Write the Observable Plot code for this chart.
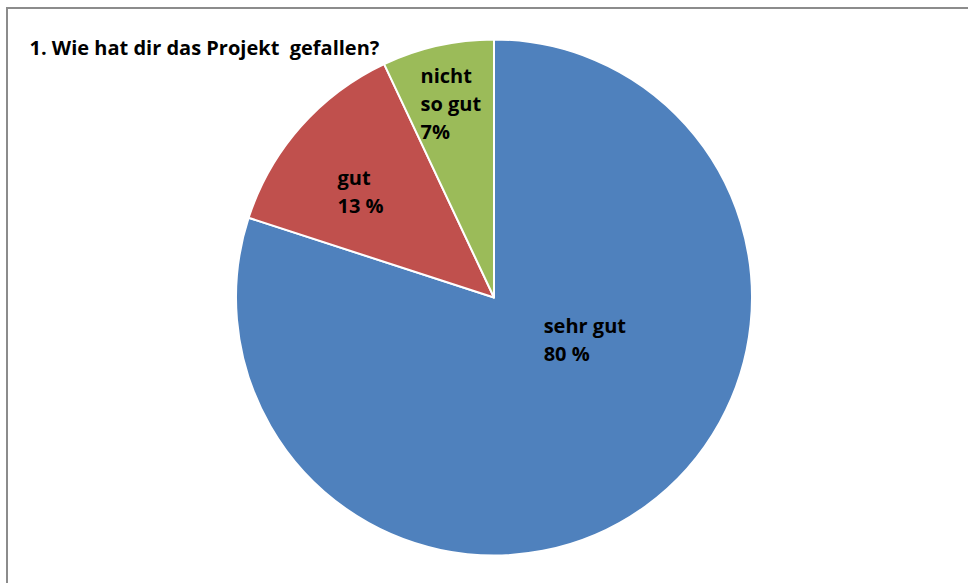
<!DOCTYPE html>
<html><head><meta charset="utf-8">
<script src="https://cdn.jsdelivr.net/npm/d3@7"></script>
<script src="https://cdn.jsdelivr.net/npm/@observablehq/plot@0.6"></script>
<style>
body{margin:0;background:#fff;}
#wrap{position:relative;width:968px;height:583px;overflow:hidden;background:#fff;}
#border{position:absolute;left:6px;top:7px;width:2000px;height:2000px;border-top:2px solid #8c8c8c;border-left:2px solid #8c8c8c;}
#chart{position:absolute;left:0;top:0;}
</style></head><body>
<div id="wrap"><div id="border"></div><div id="chart"></div></div>
<script>
const categories = ["sehr gut", "gut", "nicht so gut"];
const values = [80, 13, 7];
const labels = ["sehr gut\n80 %", "gut\n13 %", "nicht\nso gut\n7%"];
const colors = ["#4F81BD", "#C0504D", "#9BBB59"];
const title = "1. Wie hat dir das Projekt  gefallen?";

const table = categories.map((c, i) => ({category: c, value: values[i], label: labels[i]}));
const slices = d3.pie().sort(null).value(d => d.value)(table)
  .map(p => ({...p.data, startAngle: p.startAngle, endAngle: p.endAngle, mid: (p.startAngle + p.endAngle) / 2}));

function pieMark(index, scales) {
  const cx = scales.x(0), cy = scales.y(0), r = scales.x(1) - scales.x(0);
  const color = scales.color || d3.scaleOrdinal(categories, colors);
  const arc = d3.arc().innerRadius(0).outerRadius(r);
  const g = d3.create("svg:g").attr("transform", `translate(${cx},${cy})`);
  g.selectAll("path").data(slices).join("path")
    .attr("d", arc)
    .attr("fill", d => color(d.category))
    .attr("stroke", "#fff").attr("stroke-width", 2).attr("stroke-linejoin", "round");
  return g.node();
}

const FONT = "Open Sans";
const lx = d => 0.7 * Math.sin(d.mid);
const ly = d => 0.7 * Math.cos(d.mid);
const labelOpts = {x: lx, y: ly, text: "label", textAnchor: "start", lineAnchor: "middle", lineHeight: 1.4,
  fontSize: 20, fontWeight: "bold", fontFamily: FONT, fill: "#000"};

const chart = Plot.plot({
  width: 968, height: 583,
  margin: 0,
  style: {background: "transparent", fontFamily: FONT},
  x: {domain: [-1, 1], range: [236, 752], axis: null},
  y: {domain: [-1, 1], range: [555.5, 39.5], axis: null},
  color: {domain: categories, range: colors},
  marks: [
    Plot.dot(slices, {x: 0, y: 0, r: 0, fill: "category"}),
    pieMark,
    Plot.text(slices.filter(d => d.category === "sehr gut"), {...labelOpts, dx: -57, dy: -106.5}),
    Plot.text(slices.filter(d => d.category === "gut"), {...labelOpts, dx: -21.5, dy: 11}),
    Plot.text(slices.filter(d => d.category === "nicht so gut"), {...labelOpts, dx: -34.6, dy: -20}),
    Plot.text([title], {frameAnchor: "top-left", dx: 29, dy: 47.6, textAnchor: "start", lineAnchor: "middle",
      fontSize: 20, fontWeight: "bold", fontFamily: FONT, fill: "#000"})
  ]
});
document.getElementById("chart").appendChild(chart);
</script>
</body></html>
